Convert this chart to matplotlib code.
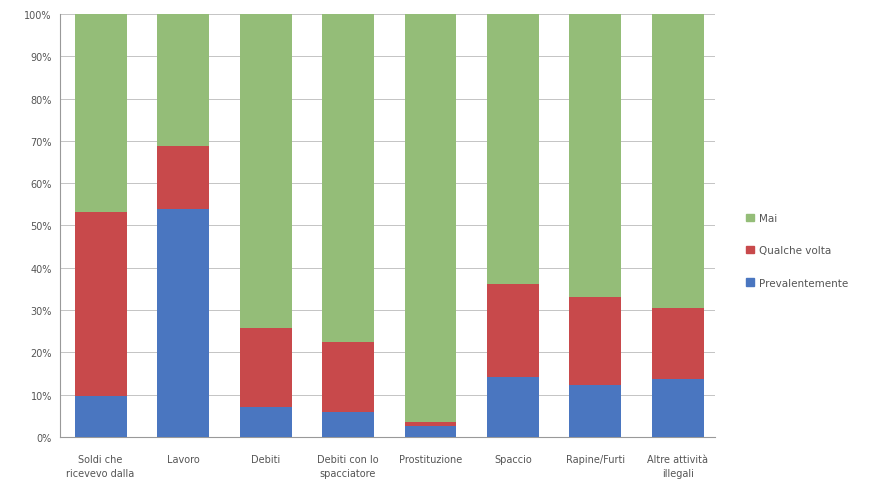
import numpy as np
import matplotlib.pyplot as plt
from matplotlib.patches import Patch

categories = ["Soldi che\nricevevo dalla", "Lavoro", "Debiti", "Debiti con lo\nspacciatore",
              "Prostituzione", "Spaccio", "Rapine/Furti", "Altre attività\nillegali"]
prevalentemente = [9.7, 54.0, 7.1, 5.9, 2.6, 14.2, 12.3, 13.7]
qualche_volta = [43.5, 14.8, 18.7, 16.6, 0.9, 22.0, 20.8, 16.8]
mai = [100 - a - b for a, b in zip(prevalentemente, qualche_volta)]

blue = "#4a76c0"
red = "#c8494b"
green = "#94bd78"

fig = plt.figure(figsize=(8.72, 4.85), dpi=100)
ax = fig.add_axes([0.069, 0.097, 0.751, 0.872])

x = np.arange(len(categories))
w = 0.63
ax.bar(x, prevalentemente, w, color=blue, zorder=3)
ax.bar(x, qualche_volta, w, bottom=prevalentemente, color=red, zorder=3)
bottom2 = np.array(prevalentemente) + np.array(qualche_volta)
ax.bar(x, mai, w, bottom=bottom2, color=green, zorder=3)

ax.set_xlim(-0.49, 7.45)
ax.set_ylim(0, 100)
ax.set_yticks(np.arange(0, 101, 10))
ax.set_yticklabels([f"{v}%" for v in range(0, 101, 10)], fontsize=7, color="#555555")
ax.set_xticks(x)
ax.set_xticklabels(categories, fontsize=7, color="#555555", linespacing=1.5)

ax.grid(axis="y", color="#c4c4c4", linewidth=0.7, zorder=0)
ax.tick_params(axis="x", length=0, pad=12)
ax.tick_params(axis="y", length=0, pad=6)
for s in ["top", "right"]:
    ax.spines[s].set_visible(False)
ax.spines["left"].set_color("#999999")
ax.spines["bottom"].set_color("#999999")

handles = [Patch(color=green, label="Mai"),
           Patch(color=red, label="Qualche volta"),
           Patch(color=blue, label="Prevalentemente")]
fig.legend(handles=handles, loc="center left", bbox_to_anchor=(0.845, 0.482),
           frameon=False, fontsize=7.5, handlelength=0.7, handleheight=0.7,
           labelspacing=2.15, handletextpad=0.5, labelcolor="#555555")

fig.savefig("out.png", dpi=100)
